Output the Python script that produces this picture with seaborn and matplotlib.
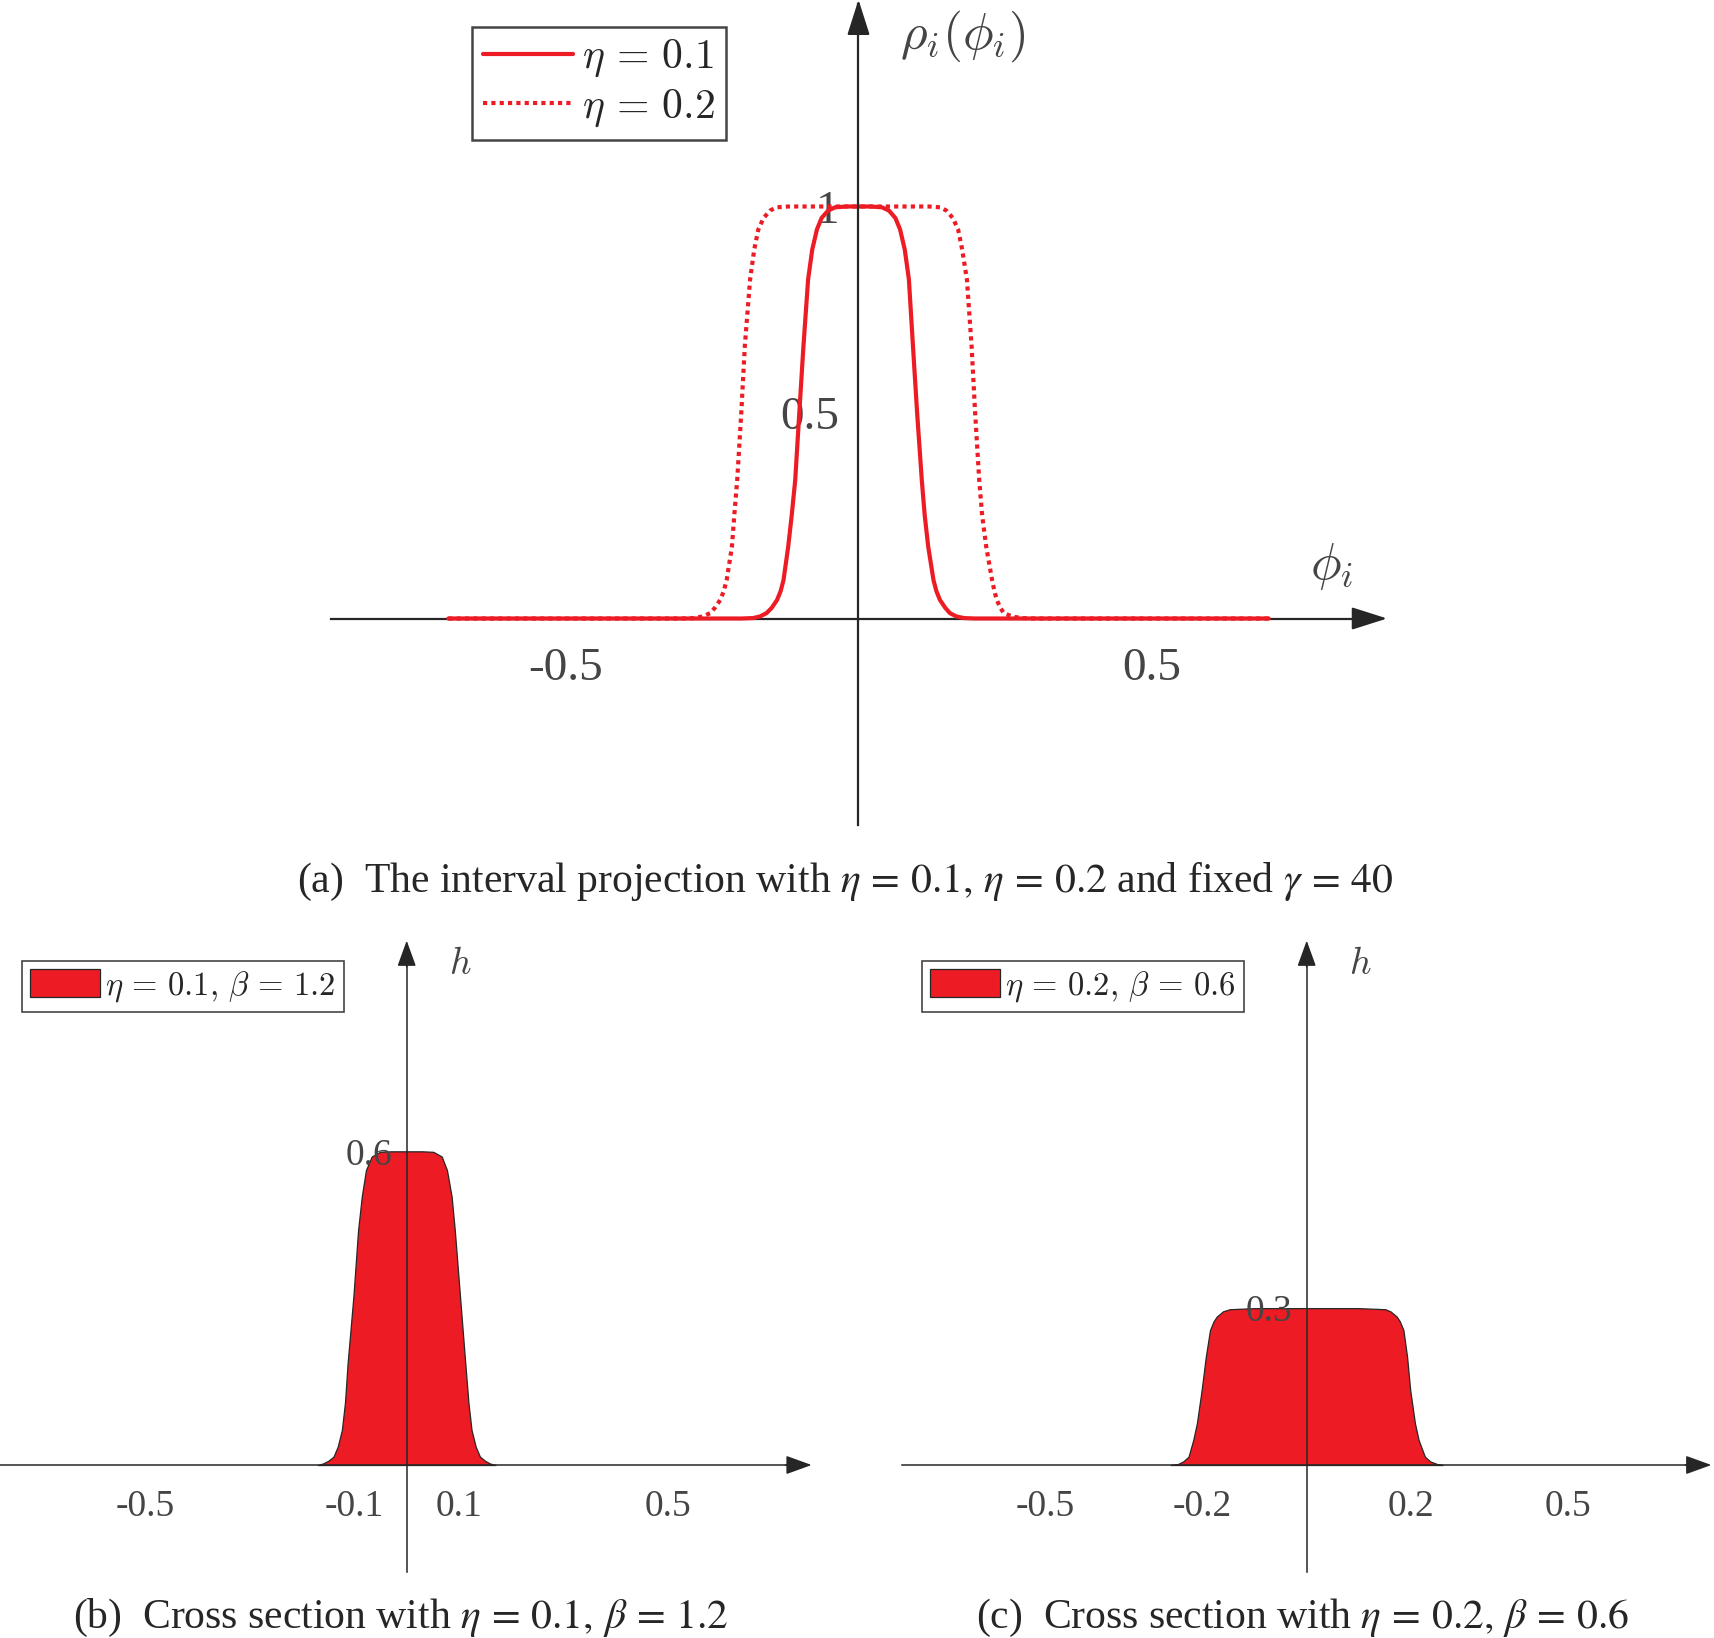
import matplotlib
matplotlib.use('Agg')
import matplotlib.pyplot as plt
import seaborn as sns

# (a) interval projection rho_i(phi_i)
phi_eta01 = [-0.700, -0.400, -0.200, -0.180, -0.168, -0.157, -0.148, -0.139, -0.133, -0.128,
             -0.120, -0.114, -0.108, -0.101, -0.094, -0.086, -0.079, -0.071, -0.063, -0.052,
             -0.040, -0.020, 0.000, 0.020, 0.040, 0.052, 0.063, 0.071, 0.079, 0.086,
             0.093, 0.100, 0.108, 0.113, 0.119, 0.128, 0.133, 0.139, 0.148, 0.156,
             0.167, 0.180, 0.200, 0.400, 0.700]
rho_eta01 = [0.000, 0.000, 0.000, 0.001, 0.005, 0.013, 0.026, 0.045, 0.066, 0.093,
             0.174, 0.250, 0.336, 0.500, 0.660, 0.823, 0.895, 0.944, 0.972, 0.990,
             0.998, 1.000, 1.000, 1.000, 0.998, 0.990, 0.972, 0.944, 0.895, 0.823,
             0.660, 0.500, 0.336, 0.250, 0.174, 0.093, 0.066, 0.045, 0.026, 0.013,
             0.005, 0.001, 0.000, 0.000, 0.000]

phi_eta02 = [-0.700, -0.400, -0.300, -0.280, -0.266, -0.253, -0.245, -0.236, -0.230, -0.225,
             -0.216, -0.212, -0.207, -0.200, -0.194, -0.185, -0.178, -0.171, -0.162, -0.151,
             -0.140, -0.120, 0.000, 0.120, 0.140, 0.150, 0.161, 0.170, 0.177, 0.185,
             0.193, 0.199, 0.206, 0.211, 0.218, 0.228, 0.232, 0.236, 0.242, 0.248,
             0.262, 0.278, 0.300, 0.400, 0.700]
rho_eta02 = [0.000, 0.000, 0.000, 0.001, 0.005, 0.013, 0.026, 0.045, 0.066, 0.093,
             0.174, 0.250, 0.336, 0.500, 0.661, 0.823, 0.895, 0.944, 0.972, 0.990,
             0.998, 1.000, 1.000, 1.000, 0.998, 0.990, 0.972, 0.944, 0.895, 0.823,
             0.661, 0.500, 0.336, 0.250, 0.174, 0.093, 0.066, 0.045, 0.026, 0.013,
             0.005, 0.001, 0.000, 0.000, 0.000]

# (b) cross section, eta = 0.1, beta = 1.2
x_b = [-0.170, -0.160, -0.150, -0.140, -0.132, -0.124, -0.118, -0.113, -0.102,
       -0.093, -0.086, -0.078, -0.067, -0.051, -0.030, 0.000, 0.030, 0.051, 0.067,
       0.077, 0.086, 0.092, 0.102, 0.112, 0.118, 0.124, 0.132, 0.140, 0.150,
       0.159, 0.170]
h_b = [0.000, 0.003, 0.008, 0.016, 0.035, 0.067, 0.120, 0.195, 0.322,
       0.449, 0.513, 0.564, 0.590, 0.599, 0.600, 0.600, 0.600, 0.599, 0.590,
       0.564, 0.513, 0.449, 0.322, 0.195, 0.120, 0.067, 0.035, 0.016, 0.008,
       0.003, 0.000]

# (c) cross section, eta = 0.2, beta = 0.6
x_c = [-0.260, -0.246, -0.236, -0.226, -0.217, -0.210, -0.201, -0.193, -0.185,
       -0.178, -0.172, -0.160, -0.147, -0.100, 0.000, 0.100, 0.150, 0.160, 0.172,
       0.178, 0.185, 0.192, 0.198, 0.207, 0.214, 0.226, 0.236, 0.249, 0.260]
h_c = [0.000, 0.002, 0.007, 0.016, 0.048, 0.080, 0.143, 0.207, 0.258,
       0.275, 0.284, 0.294, 0.298, 0.300, 0.300, 0.300, 0.298, 0.294, 0.284,
       0.275, 0.258, 0.207, 0.143, 0.080, 0.048, 0.016, 0.007, 0.002, 0.000]

RED = '#ED1C24'
INK = '#262626'
GREY = '#454545'

sns.set_theme(style='white')
plt.rcParams['font.family'] = ['Liberation Serif', 'DejaVu Serif']
plt.rcParams['mathtext.fontset'] = 'cm'
plt.rcParams['axes.unicode_minus'] = False

W, H = 1715, 1638
fig = plt.figure(figsize=(W / 100, H / 100), dpi=100)


def place(x0, y0, sx, sy, xlim, ylim):
    # axes whose data origin sits at pixel (x0, y0), y counted from the top
    left = x0 + xlim[0] * sx
    right = x0 + xlim[1] * sx
    top = y0 - ylim[1] * sy
    bottom = y0 - ylim[0] * sy
    ax = fig.add_axes([left / W, 1 - bottom / H, (right - left) / W, (bottom - top) / H])
    ax.set_xlim(xlim)
    ax.set_ylim(ylim)
    ax.patch.set_visible(False)
    ax.set_axisbelow(False)
    return ax


def arrow_axes(ax, xb, yb, lw, head, tick_len, ms=20):
    ax.spines[['top', 'right']].set_visible(False)
    ax.spines['left'].set_position(('data', 0))
    ax.spines['bottom'].set_position(('data', 0))
    ax.spines['bottom'].set_bounds(xb[0], xb[1] - 0.01)
    ax.spines['left'].set_bounds(yb[0], yb[1] - 0.01)
    for s in ['left', 'bottom']:
        ax.spines[s].set_color(INK)
        ax.spines[s].set_linewidth(lw)
    ax.spines['left'].set_zorder(4)
    ax.tick_params(direction='in', length=tick_len, width=lw, color=INK,
                   labelcolor=GREY)
    style = f'-|>,head_length={head[0]},head_width={head[1]}'
    props = dict(arrowstyle=style, color=INK, lw=lw, shrinkA=0, shrinkB=0,
                 mutation_scale=ms)
    ax.annotate('', xy=(xb[1], 0), xytext=(xb[1] - 0.05, 0), arrowprops=props,
                annotation_clip=False, zorder=5)
    ax.annotate('', xy=(0, yb[1]), xytext=(0, yb[1] - 0.05), arrowprops=props,
                annotation_clip=False, zorder=5)
    ax.grid(False)


# ---- (a) top panel
ax = place(858.5, 618.5, 586, 412, (-1.0, 1.0), (-0.55, 1.52))
arrow_axes(ax, (-0.901, 0.902), (-0.502, 1.502), 1.6, (1.1, 0.35), 7)
sns.lineplot(x=phi_eta01, y=rho_eta01, ax=ax, color=RED, lw=3.0, sort=False,
             estimator=None, label=r'$\eta \,=\, 0.1$', zorder=3)
sns.lineplot(x=phi_eta02, y=rho_eta02, ax=ax, color=RED, lw=3.0, sort=False,
             estimator=None, linestyle=(0, (1, 1)), label=r'$\eta \,=\, 0.2$', zorder=3)
ax.set_xticks([-0.5, 0.5])
ax.set_xticklabels(['-0.5', '0.5'])
ax.set_yticks([0.5, 1])
ax.set_yticklabels(['0.5', '1'])
ax.tick_params(axis='x', pad=21, labelsize=34)
ax.tick_params(axis='y', pad=14, labelsize=34)
ax.text(0.071, 1.384, r'$\rho_i(\phi_i)$', ha='left', va='baseline', fontsize=37,
        color=GREY)
ax.text(0.808, 0.127, r'$\phi_i$', ha='center', va='center', fontsize=37, color=GREY)
leg = ax.legend(loc='upper left', bbox_to_anchor=(472.5 / W, 1 - 27.3 / H),
                bbox_transform=fig.transFigure, fontsize=30, handlelength=2.15,
                handletextpad=0.22, borderpad=0.26, labelspacing=0.2,
                borderaxespad=0, fancybox=False, framealpha=1, edgecolor=GREY)
leg.get_frame().set_linewidth(1.8)

# ---- (b) and (c) cross sections
panels = [
    (406.7, (-0.78, 0.80), (-0.778, 0.7745), x_b, h_b, [-0.5, -0.1, 0.1, 0.5],
     ['-0.5', '-0.1', '0.1', '0.5'], [0.6], ['0.6'],
     r'$\eta \,=\, 0.1,\, \beta \,=\, 1.2$', 21.7),
    (1306.7, (-0.80, 0.80), (-0.775, 0.774), x_c, h_c, [-0.5, -0.2, 0.2, 0.5],
     ['-0.5', '-0.2', '0.2', '0.5'], [0.3], ['0.3'],
     r'$\eta \,=\, 0.2,\, \beta \,=\, 0.6$', 921.7),
]
for x0, xlim, xb, xs, hs, xt, xtl, yt, ytl, lab, legx in panels:
    axb = place(x0, 1465, 522.8, 522.8, xlim, (-0.22, 1.02))
    arrow_axes(axb, xb, (-0.204, 1.003), 1.1, (0.8, 0.29), 6)
    axb.fill_between(xs, hs, color=RED, edgecolor=INK, lw=0.9, label=lab, zorder=1)
    axb.set_xticks(xt)
    axb.set_xticklabels(xtl)
    axb.set_yticks(yt)
    axb.set_yticklabels(ytl)
    axb.tick_params(axis='x', pad=18, labelsize=27)
    axb.tick_params(axis='y', pad=10, labelsize=27)
    axb.text(0.103, 0.957, r'$h$', ha='center', va='center', fontsize=27, color=GREY)
    lg = axb.legend(loc='upper left', bbox_to_anchor=(legx / W, 1 - 961 / H),
                    bbox_transform=fig.transFigure, fontsize=23.5, handlelength=2.15,
                    handleheight=0.95, handletextpad=0.15, borderpad=0.25,
                    borderaxespad=0, fancybox=False, framealpha=1, edgecolor=GREY)
    lg.get_frame().set_linewidth(1.2)

# ---- captions
cap = dict(ha='center', va='baseline', fontsize=30, math_fontfamily='stix')
fig.text(845.5 / W, 1 - 891.7 / H,
         r'(a)  The interval projection with $\eta \,=\, 0.1,\, \eta \,=\, 0.2$'
         r' and fixed $\gamma \,=\, 40$', **cap)
fig.text(401 / W, 1 - 1628 / H,
         r'(b)  Cross section with $\eta \,=\, 0.1,\, \beta \,=\, 1.2$', **cap)
fig.text(1302.7 / W, 1 - 1628 / H,
         r'(c)  Cross section with $\eta \,=\, 0.2,\, \beta \,=\, 0.6$', **cap)

fig.savefig('out.png', dpi=100)
